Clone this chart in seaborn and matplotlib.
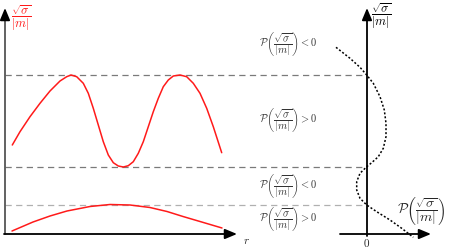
import matplotlib
matplotlib.use("Agg")
import matplotlib.pyplot as plt
import seaborn as sns
import pandas as pd

sns.set_theme(style="white")
plt.rcParams["mathtext.fontset"] = "cm"
plt.rcParams["font.family"] = ["DejaVu Sans"]

# ---- data (read from the schematic, figure pixel units, y downwards) ----
# upper red curve: sqrt(sigma)/|m| vs r
upper_r = [12.3, 20, 30, 40, 50, 60, 66.7, 71, 76.7, 83.3, 88.3, 93.3, 98.3, 103.3,
           108.3, 113.3, 118.3, 123.3, 128.3, 133.3, 138.3, 143.3, 148.3, 153.3,
           158.3, 163.3, 168.3, 173.3, 180, 186.7, 193.3, 200, 206.7, 213.3, 221.7]
upper_v = [145, 131.7, 116.7, 103.3, 91, 81, 76.7, 75, 76.7, 83.3, 93.3, 108.3, 125,
           141.7, 155, 162.7, 166, 167, 165.7, 161.7, 153.3, 141.7, 126.7, 111.7,
           98.3, 86.7, 80, 76, 75, 76.7, 83.3, 93.3, 108.3, 126.7, 152.7]
# lower red curve
lower_r = [12, 33, 50, 67, 90, 110, 130, 150, 167, 183, 200, 222]
lower_v = [231, 222, 216, 211, 206.5, 204.5, 205, 207.5, 211.5, 216.5, 221.5, 228]
# dotted curve: P(sqrt(sigma)/|m|) vs sqrt(sigma)/|m|
p_x = [336, 350, 360, 366.7, 373.3, 380, 384.3, 386, 386, 383.3, 378.3, 371.7, 366.7,
       360, 356.7, 356.7, 360, 366.7, 376.7, 390, 401.7, 413.3]
p_y = [47.3, 58.3, 67.3, 75, 83.3, 96.7, 110, 123.3, 136.7, 148.3, 156.7, 162.7, 166.7,
       173.3, 181.7, 190, 198.3, 205, 211.7, 220, 228.3, 237.3]
# region levels (dashed) and labels
levels = [75, 167, 205]
level_colors = ["#7a7a7a", "#7a7a7a", "#b0b0b0"]
region_y = [44, 120, 186, 219]
region_sign = ["<", ">", "<", ">"]

fig = plt.figure(figsize=(4.49, 2.52), dpi=100)
ax = fig.add_axes([0, 0, 1, 1])

# dashed levels
for lv, c in zip(levels, level_colors):
    ax.plot([5, 367], [lv, lv], color=c, lw=0.9, ls=(0, (5, 3.5)), zorder=1)

# curves
sns.lineplot(data=pd.DataFrame({"r": upper_r, "v": upper_v}), x="r", y="v",
             color="#ff1a1a", lw=1.1, ax=ax, sort=False, estimator=None)
sns.lineplot(data=pd.DataFrame({"r": lower_r, "v": lower_v}), x="r", y="v",
             color="#ff1a1a", lw=1.1, ax=ax, sort=False, estimator=None)
sns.lineplot(data=pd.DataFrame({"p": p_x, "v": p_y}), x="p", y="v",
             color="black", lw=1.1, ax=ax, sort=False, estimator=None,
             linestyle=(0, (1.3, 1.3)))
ax.set_xlim(0, 449)
ax.set_ylim(252, 0)
ax.axis("off")

arrow = dict(arrowstyle="-|>,head_length=0.6,head_width=0.25", color="black", lw=1.3,
             shrinkA=0, shrinkB=0)
# left axes
ax.plot([5, 5], [234, 14], color="#555555", lw=1.3, zorder=3)
ax.annotate("", xy=(5, 8), xytext=(5, 18), arrowprops=arrow)
ax.annotate("", xy=(237, 234), xytext=(4, 234), arrowprops=arrow)
# right axes
ax.annotate("", xy=(367, 8), xytext=(367, 236), arrowprops=arrow)
ax.annotate("", xy=(431, 234), xytext=(340, 234), arrowprops=arrow)

frac = r"\dfrac{\sqrt{\sigma}}{|m|}"
ax.text(21, 18, "$" + frac + "$", color="#ff1a1a", fontsize=9, ha="center", va="center")
ax.text(381, 16, "$" + frac + "$", color="black", fontsize=9, ha="center", va="center")
ax.text(246, 241, "$r$", fontsize=8, ha="center", va="center")
ax.text(367, 243, "$0$", fontsize=8, ha="center", va="center")
for yy, s in zip(region_y, region_sign):
    ax.text(288, yy, r"$\mathcal{P}\left(" + frac + r"\right) " + s + " 0$",
            fontsize=7.5, ha="center", va="center", color="#333333")
ax.text(421, 211, r"$\mathcal{P}\left(" + frac + r"\right)$", fontsize=10,
        ha="center", va="center")

fig.savefig("out.png", dpi=100)
